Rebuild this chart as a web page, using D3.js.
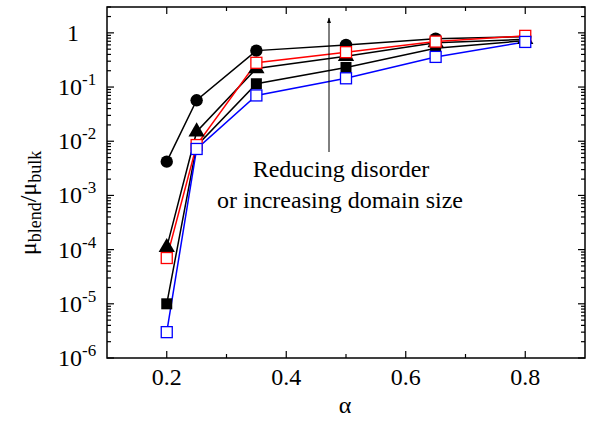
<!DOCTYPE html>
<html><head><meta charset="utf-8">
<script src="https://cdn.jsdelivr.net/npm/d3@7"></script>
<style>body{margin:0;background:#fff}svg{display:block}</style>
</head><body>
<script>
const alpha = [0.2, 0.25, 0.35, 0.5, 0.65, 0.8];
const circles = [0.0042, 0.057, 0.47, 0.6, 0.78, 0.85];
const triangles = [1.1e-4, 0.015, 0.22, 0.37, 0.66, 0.76];
const filledSquares = [1.0e-5, 0.0082, 0.115, 0.23, 0.52, 0.72];
const redSquares = [7.0e-5, 0.0085, 0.28, 0.44, 0.69, 0.88];
const blueSquares = [3.0e-6, 0.0072, 0.07, 0.145, 0.36, 0.68];
const xTicks = [0.2, 0.4, 0.6, 0.8];
const yExp = [0, -1, -2, -3, -4, -5, -6];

const series = [
  {vals: circles, color: "#000", shape: "circle", fill: true},
  {vals: triangles, color: "#000", shape: "triangle", fill: true},
  {vals: filledSquares, color: "#000", shape: "square", fill: true},
  {vals: redSquares, color: "#ff0000", shape: "square", fill: false},
  {vals: blueSquares, color: "#0000ff", shape: "square", fill: false}
];

const W = 592, H = 430;
const m = {l: 107, r: 585, t: 7, b: 358};
const svg = d3.select("body").append("svg").attr("width", W).attr("height", H);
const x = d3.scaleLinear().domain([0.1, 0.9]).range([m.l, m.r]);
const y = d3.scaleLog().domain([1e-6, 3]).range([m.b, m.t]);

function txt(sel, size) {
  return sel.append("text").style("font-family", "Liberation Serif").style("font-size", size + "px").attr("fill", "#000");
}

// frame
svg.append("rect").attr("x", m.l).attr("y", m.t).attr("width", m.r - m.l).attr("height", m.b - m.t)
  .attr("fill", "none").attr("stroke", "#000").attr("stroke-width", 1.5);

// x ticks
const xMinor = d3.range(1, 9).map(k => +(k / 10).toFixed(2)).filter(v => v > 0.1);
xMinor.forEach(v => {
  const major = xTicks.some(t => Math.abs(t - v) < 1e-6);
  const L = major ? 7 : 4;
  svg.append("line").attr("x1", x(v)).attr("x2", x(v)).attr("y1", m.b).attr("y2", m.b - L).attr("stroke", "#000").attr("stroke-width", 1.2);
  svg.append("line").attr("x1", x(v)).attr("x2", x(v)).attr("y1", m.t).attr("y2", m.t + L).attr("stroke", "#000").attr("stroke-width", 1.2);
});
xTicks.forEach(v => {
  txt(svg, 24).attr("x", x(v)).attr("y", 385).attr("text-anchor", "middle").text(d3.format(".1f")(v));
});

// y ticks
for (let e = -6; e <= 0; e++) {
  for (let k = 1; k <= 9; k++) {
    const v = k * Math.pow(10, e);
    if (v > 3) continue;
    const L = k === 1 ? 7 : 4;
    svg.append("line").attr("x1", m.l).attr("x2", m.l + L).attr("y1", y(v)).attr("y2", y(v)).attr("stroke", "#000").attr("stroke-width", 1.2);
    svg.append("line").attr("x1", m.r).attr("x2", m.r - L).attr("y1", y(v)).attr("y2", y(v)).attr("stroke", "#000").attr("stroke-width", 1.2);
  }
}
yExp.forEach(e => {
  const t = txt(svg, 24).attr("y", y(Math.pow(10, e)) + 8);
  if (e === 0) {
    t.attr("x", 73).attr("text-anchor", "middle").text("1");
  } else {
    t.attr("x", 58);
    t.append("tspan").text("10");
    t.append("tspan").attr("dy", -10).style("font-size", "17px").text("-" + (-e));
  }
});

// axis labels
txt(svg, 24).attr("x", 345).attr("y", 413).attr("text-anchor", "middle").text("α");
const yl = txt(svg, 24).attr("transform", "translate(36,203) rotate(-90)").attr("text-anchor", "middle");
yl.append("tspan").text("μ");
yl.append("tspan").attr("dy", 5).style("font-size", "18px").text("blend");
yl.append("tspan").attr("dy", -5).text("/μ");
yl.append("tspan").attr("dy", 5).style("font-size", "18px").text("bulk");

// lines and markers
const line = d3.line().x((d, i) => x(alpha[i])).y(d => y(d));
series.forEach(s => {
  svg.append("path").attr("d", line(s.vals)).attr("fill", "none").attr("stroke", s.color).attr("stroke-width", 1.5);
});
series.forEach(s => {
  const g = svg.append("g");
  s.vals.forEach((v, i) => {
    const cx = x(alpha[i]), cy = y(v);
    if (s.shape === "circle") {
      g.append("circle").attr("cx", cx).attr("cy", cy).attr("r", 6.2).attr("fill", s.color);
    } else if (s.shape === "triangle") {
      g.append("path").attr("d", d3.symbol(d3.symbolTriangle, 115)()).attr("transform", `translate(${cx},${cy})`).attr("fill", s.color);
    } else if (s.fill) {
      g.append("rect").attr("x", cx - 5.5).attr("y", cy - 5.5).attr("width", 11).attr("height", 11).attr("fill", s.color);
    } else {
      g.append("rect").attr("x", cx - 5.5).attr("y", cy - 5.5).attr("width", 11).attr("height", 11).attr("fill", "#fff").attr("stroke", s.color).attr("stroke-width", 1.3);
    }
  });
});

// annotation arrow
const defs = svg.append("defs");
defs.append("marker").attr("id", "ah").attr("viewBox", "0 0 10 10").attr("refX", 9).attr("refY", 5)
  .attr("markerWidth", 6).attr("markerHeight", 6).attr("orient", "auto")
  .append("path").attr("d", "M0,1.5 L10,5 L0,8.5 Z").attr("fill", "#000");
svg.append("line").attr("x1", 329).attr("x2", 329).attr("y1", 152).attr("y2", 18)
  .attr("stroke", "#000").attr("stroke-width", 1).attr("marker-end", "url(#ah)");
txt(svg, 24).attr("x", 341).attr("y", 177).attr("text-anchor", "middle").text("Reducing disorder");
txt(svg, 24).attr("x", 340).attr("y", 208).attr("text-anchor", "middle").text("or increasing domain size");
</script>
</body></html>
